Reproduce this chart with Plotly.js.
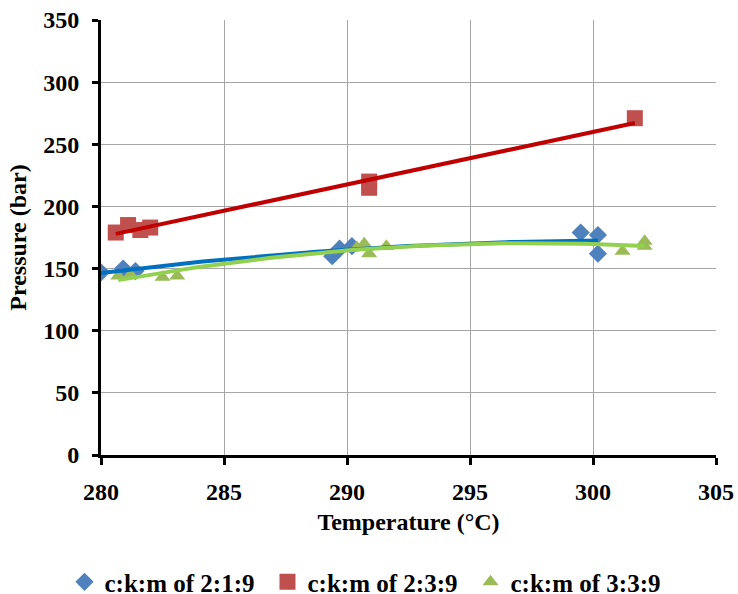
<!DOCTYPE html>
<html>
<head>
<meta charset="utf-8">
<script src="https://cdn.plot.ly/plotly-3.0.1.min.js"></script>
<style>html,body{margin:0;padding:0;background:#fff;}</style>
</head>
<body>
<div id="chart" style="width:738px;height:594px"></div>
<script>
// Series c:k:m of 2:1:9
const tempA = [280.0, 280.9, 281.4, 289.4, 289.7, 290.2, 299.5, 300.2, 300.2];
const presA = [147, 150, 148, 160, 166, 168, 179, 177, 162];
// Series c:k:m of 2:3:9
const tempB = [280.6, 281.1, 281.6, 282.0, 290.9, 290.9, 301.7];
const presB = [179, 185, 181, 183, 220, 215, 271];
// Series c:k:m of 3:3:9
const tempC = [280.7, 281.2, 282.5, 283.1, 290.4, 290.7, 290.9, 291.6, 301.2, 302.1, 302.1];
const presC = [144, 145, 143, 144, 167, 170, 162, 168, 164, 168, 172];

const seriesNames = ['c:k:m of 2:1:9', 'c:k:m of 2:3:9', 'c:k:m of 3:3:9'];
const xTicks = [280, 285, 290, 295, 300, 305];
const yTicks = [0, 50, 100, 150, 200, 250, 300, 350];

// least squares polynomial fit (trendline, as in the source spreadsheet)
function polyfit(xs, ys, deg) {
  const n = deg + 1;
  const x0 = xs.reduce((a, b) => a + b, 0) / xs.length;
  const A = [];
  for (let i = 0; i < n; i++) { A.push(new Array(n + 1).fill(0)); }
  xs.forEach((xv, k) => {
    const u = xv - x0;
    for (let i = 0; i < n; i++) {
      for (let j = 0; j < n; j++) A[i][j] += Math.pow(u, i + j);
      A[i][n] += ys[k] * Math.pow(u, i);
    }
  });
  for (let i = 0; i < n; i++) {
    let p = i;
    for (let r = i + 1; r < n; r++) if (Math.abs(A[r][i]) > Math.abs(A[p][i])) p = r;
    [A[i], A[p]] = [A[p], A[i]];
    for (let r = 0; r < n; r++) {
      if (r === i) continue;
      const f = A[r][i] / A[i][i];
      for (let c = i; c <= n; c++) A[r][c] -= f * A[i][c];
    }
  }
  const coef = A.map((row, i) => row[n] / row[i]);
  return xv => coef.reduce((s, c, i) => s + c * Math.pow(xv - x0, i), 0);
}
function trend(xs, ys, deg) {
  const f = polyfit(xs, ys, deg);
  const lo = Math.min(...xs), hi = Math.max(...xs);
  const tx = [], ty = [];
  for (let i = 0; i <= 60; i++) { const v = lo + (hi - lo) * i / 60; tx.push(v); ty.push(f(v)); }
  return {x: tx, y: ty};
}
const tA = trend(tempA, presA, 2);
const tB = trend(tempB, presB, 1);
const tC = trend(tempC, presC, 2);

const FAM = 'Liberation Serif';
function bf(size) { return {family: FAM, size: size, color: '#000', weight: 'bold'}; }

const data = [
  {x: tempA, y: presA, type: 'scatter', mode: 'markers', name: seriesNames[0],
   marker: {symbol: 'diamond', size: 14, color: '#4F81BD'}},
  {x: tempB, y: presB, type: 'scatter', mode: 'markers', name: seriesNames[1],
   marker: {symbol: 'square', size: 16, color: '#C0504D'}},
  {x: tempC, y: presC, type: 'scatter', mode: 'markers', name: seriesNames[2],
   marker: {symbol: 'triangle-up', size: 14, color: '#9BBB59'}},
  {x: tB.x, y: tB.y, type: 'scatter', mode: 'lines', showlegend: false, hoverinfo: 'skip',
   line: {color: '#C00000', width: 4}},
  {x: tA.x, y: tA.y, type: 'scatter', mode: 'lines', showlegend: false, hoverinfo: 'skip',
   line: {color: '#0070C0', width: 4}},
  {x: tC.x, y: tC.y, type: 'scatter', mode: 'lines', showlegend: false, hoverinfo: 'skip',
   line: {color: '#92D050', width: 4}}
];

const layout = {
  width: 738, height: 594,
  margin: {l: 101, r: 22, t: 20, b: 139},
  paper_bgcolor: '#fff', plot_bgcolor: '#fff',
  font: {family: FAM, size: 24, color: '#000'},
  showlegend: true,
  legend: {orientation: 'h', xref: 'container', yref: 'container', x: 0.5, xanchor: 'center',
    y: 0.02, yanchor: 'middle', font: bf(25),
    itemwidth: 30, entrywidth: 158, entrywidthmode: 'pixels', bgcolor: 'rgba(0,0,0,0)'},
  xaxis: {
    range: [280, 305], tickvals: xTicks, ticktext: xTicks.map(String),
    showgrid: true, gridcolor: '#A6A6A6', gridwidth: 1,
    showline: true, linecolor: '#000', linewidth: 3,
    ticks: 'outside', ticklen: 7, tickwidth: 3, tickcolor: '#000',
    ticklabelstandoff: 6,
    zeroline: false,
    tickfont: bf(24),
    title: {text: 'Temperature (°C)', standoff: 10, font: bf(24)}
  },
  yaxis: {
    range: [0, 350], tickvals: yTicks, ticktext: yTicks.map(String),
    showgrid: true, gridcolor: '#A6A6A6', gridwidth: 1,
    showline: true, linecolor: '#000', linewidth: 3,
    ticks: 'outside', ticklen: 6, tickwidth: 3, tickcolor: '#000',
    ticklabelstandoff: 8,
    zeroline: false,
    tickfont: bf(24),
    title: {text: 'Pressure (bar)', standoff: 10, font: bf(24)}
  }
};

Plotly.newPlot('chart', data, layout, {displayModeBar: false}).then(function () {
  document.querySelectorAll('#chart text').forEach(function (t) {
    t.style.fontFamily = "'Liberation Serif', 'Times New Roman', serif";
    t.style.fontWeight = '700';
  });
});
</script>
</body>
</html>
